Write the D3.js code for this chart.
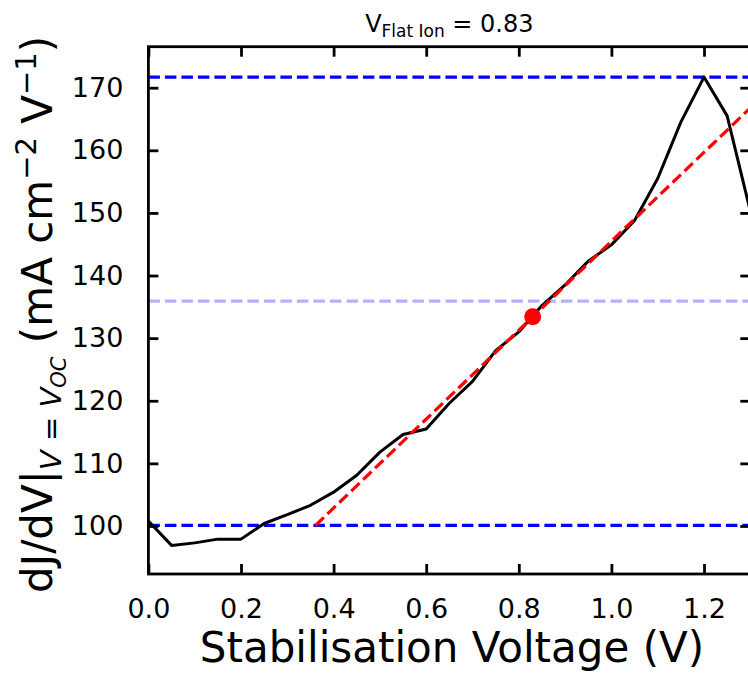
<!DOCTYPE html>
<html>
<head>
<meta charset="utf-8">
<script src="https://cdn.jsdelivr.net/npm/d3@7"></script>
<style>
  html, body { margin: 0; padding: 0; background: #fff; }
  svg { display: block; font-family: "DejaVu Sans", sans-serif; }
</style>
</head>
<body>
<svg id="chart" width="748" height="673"></svg>
<script>
// ---- data ----
const voltages = [0.00, 0.05, 0.10, 0.15, 0.20, 0.25, 0.30, 0.35, 0.40, 0.45, 0.50, 0.55, 0.60, 0.65,
                  0.70, 0.75, 0.80, 0.85, 0.90, 0.95, 1.00, 1.05, 1.10, 1.15, 1.20, 1.25, 1.30];
const dJdV = [100.8, 96.9, 97.3, 97.9, 97.9, 100.4, 101.8, 103.3, 105.4, 108.1, 111.8, 114.6, 115.5, 119.6,
              123.1, 128.0, 131.0, 135.2, 138.5, 142.3, 144.9, 148.8, 155.5, 164.5, 171.7, 165.5, 150.3];
const upperRef = 171.7;
const lowerRef = 100.1;
const midRef = (upperRef + lowerRef) / 2;
const flatV = 0.83;
const flatJ = 133.4;
const tangentSlope = 71.0;
const xTicks = [0.0, 0.2, 0.4, 0.6, 0.8, 1.0, 1.2];
const yTicks = [100, 110, 120, 130, 140, 150, 160, 170];
const xDomain = [0, 1.3];
const yDomain = [92.33, 176.55];

// ---- layout ----
const svg = d3.select("#chart");
const L = 148.4, R = 750.3, T = 46.7, B = 574;
const x = d3.scaleLinear().domain(xDomain).range([L, R]);
const y = d3.scaleLinear().domain(yDomain).range([B, T]);

svg.append("defs").append("clipPath").attr("id", "clip")
  .append("rect").attr("x", L).attr("y", T).attr("width", R - L).attr("height", B - T);

const plot = svg.append("g").attr("clip-path", "url(#clip)");

// reference lines
function hline(v, color, op) {
  plot.append("line")
    .attr("x1", L).attr("x2", R)
    .attr("y1", y(v)).attr("y2", y(v))
    .attr("stroke", color).attr("stroke-opacity", op)
    .attr("stroke-width", 3.2).attr("stroke-dasharray", "11.5,5");
}
hline(upperRef, "#0000ff", 1);
hline(lowerRef, "#0000ff", 1);
hline(midRef, "#0000ff", 0.3);

// data line
plot.append("path")
  .datum(voltages.map((v, i) => [v, dJdV[i]]))
  .attr("fill", "none").attr("stroke", "#000").attr("stroke-width", 3)
  .attr("stroke-linejoin", "round")
  .attr("d", d3.line().x(d => x(d[0])).y(d => y(d[1])));

// tangent line
const tStart = flatV + (lowerRef - flatJ) / tangentSlope;
const tEnd = 1.45;
plot.append("line")
  .attr("x1", x(tStart)).attr("y1", y(lowerRef))
  .attr("x2", x(tEnd)).attr("y2", y(flatJ + (tEnd - flatV) * tangentSlope))
  .attr("stroke", "#ff0000").attr("stroke-width", 3.2).attr("stroke-dasharray", "11.5,5");

// flat point
plot.append("circle").attr("cx", x(flatV)).attr("cy", y(flatJ)).attr("r", 8.5).attr("fill", "#ff0000");

// ---- axes ----
const tickLen = 10, sw = 2.8;
const xb = d3.axisBottom(x).tickValues(xTicks).tickSize(-tickLen).tickPadding(tickLen + 15).tickFormat(d3.format(".1f"));
const xt = d3.axisTop(x).tickValues(xTicks).tickSize(-tickLen).tickFormat("");
const yl = d3.axisLeft(y).tickValues(yTicks).tickSize(-tickLen).tickPadding(tickLen + 15).tickFormat(d3.format("d"));
const yr = d3.axisRight(y).tickValues(yTicks).tickSize(-tickLen).tickFormat("");

function style(g) {
  g.select(".domain").remove();
  g.selectAll(".tick line").attr("stroke", "#000").attr("stroke-width", sw);
  g.selectAll(".tick text").attr("fill", "#000").attr("font-size", 27).attr("font-family", "DejaVu Sans");
}
svg.append("g").attr("transform", `translate(0,${B})`).call(xb).call(style);
svg.append("g").attr("transform", `translate(0,${T})`).call(xt).call(style);
svg.append("g").attr("transform", `translate(${L},0)`).call(yl).call(style);
svg.append("g").attr("transform", `translate(${R},0)`).call(yr).call(style);

// frame
svg.append("rect").attr("x", L).attr("y", T).attr("width", R - L).attr("height", B - T)
  .attr("fill", "none").attr("stroke", "#000").attr("stroke-width", sw);

// ---- labels ----
svg.append("text").attr("x", 452).attr("y", 662)
  .attr("text-anchor", "middle").attr("font-size", 42).attr("fill", "#000")
  .text("Stabilisation Voltage (V)");

const yl_t = svg.append("text")
  .attr("transform", `translate(52,${(T + B) / 2 + 4}) rotate(-90)`)
  .attr("text-anchor", "middle").attr("font-size", 42).attr("fill", "#000");
yl_t.append("tspan").text("dJ/dV|");
yl_t.append("tspan").attr("font-size", 29).attr("font-style", "italic").attr("dy", 9).text("V");
yl_t.append("tspan").attr("font-size", 29).text(" = ");
yl_t.append("tspan").attr("font-size", 29).attr("font-style", "italic").text("V");
yl_t.append("tspan").attr("font-size", 21).attr("font-style", "italic").attr("dy", 5).text("OC");
yl_t.append("tspan").attr("dy", -14).text(" (mA cm");
yl_t.append("tspan").attr("font-size", 29).attr("dy", -16).text("−2");
yl_t.append("tspan").attr("dy", 16).text(" V");
yl_t.append("tspan").attr("font-size", 29).attr("dy", -16).text("−1");
yl_t.append("tspan").attr("dy", 16).text(")");

const title = svg.append("text").attr("x", (L + R) / 2).attr("y", 32)
  .attr("text-anchor", "middle").attr("font-size", 24).attr("fill", "#000");
title.append("tspan").text("V");
title.append("tspan").attr("font-size", 17).attr("dy", 5).text("Flat Ion");
title.append("tspan").attr("dy", -5).text(" = 0.83");
</script>
</body>
</html>
